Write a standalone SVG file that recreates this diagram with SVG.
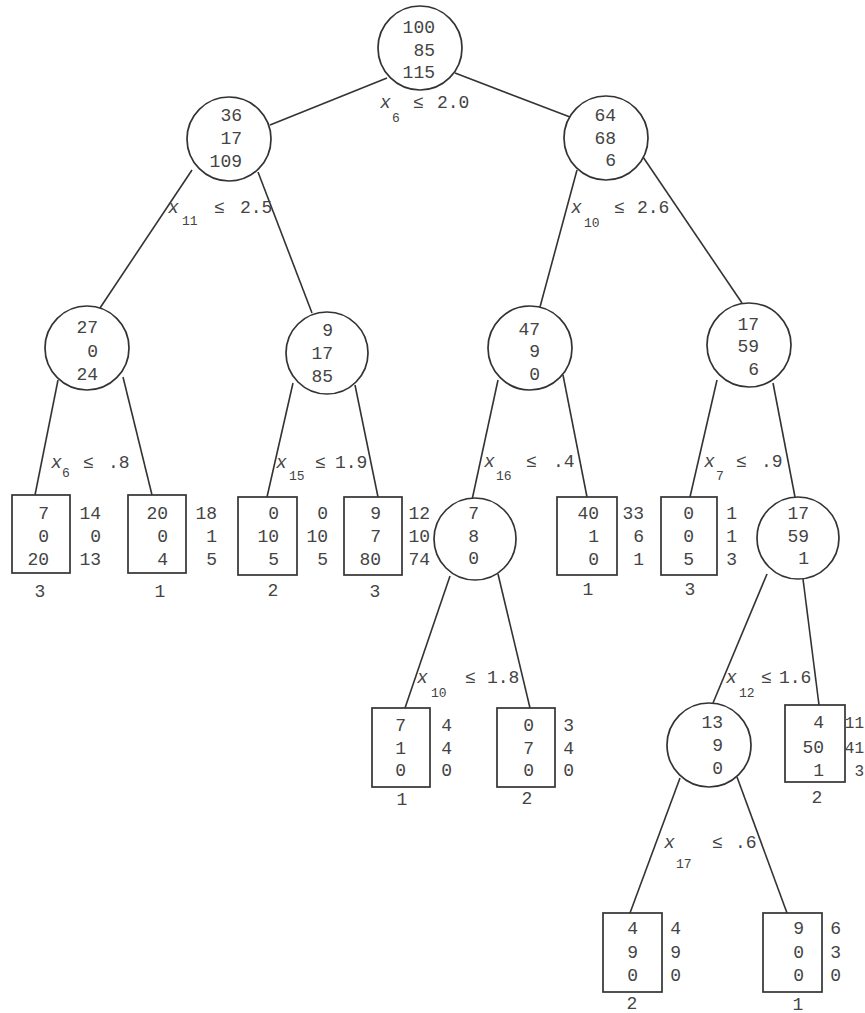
<svg xmlns="http://www.w3.org/2000/svg" width="865" height="1013" viewBox="0 0 865 1013">
<style>
.bg{fill:#fff}
.c{fill:#fff;stroke:#333;stroke-width:1.7}
.b{fill:#fff;stroke:#333;stroke-width:1.7}
.e{stroke:#333;stroke-width:1.6;fill:none}
text{font-family:"Liberation Mono","DejaVu Sans Mono",monospace;font-size:18px;fill:#444}
.n{text-anchor:end}
.m{text-anchor:middle}
.it{font-style:italic}
.sub{font-size:13px}
.edge{font-size:16px}
</style>
<rect class="bg" width="865" height="1013"/>
<g id="connectors">
<line class="e" x1="387" y1="78" x2="270" y2="125"/>
<line class="e" x1="455" y1="73" x2="570" y2="117"/>
<line class="e" x1="192" y1="170" x2="100" y2="308"/>
<line class="e" x1="258" y1="172" x2="312" y2="313"/>
<line class="e" x1="577" y1="170" x2="540" y2="307"/>
<line class="e" x1="643" y1="157" x2="742" y2="303"/>
<line class="e" x1="58" y1="380" x2="35" y2="495"/>
<line class="e" x1="123" y1="377" x2="152" y2="495"/>
<line class="e" x1="293" y1="383" x2="267" y2="497"/>
<line class="e" x1="355" y1="385" x2="378" y2="497"/>
<line class="e" x1="498" y1="380" x2="472" y2="500"/>
<line class="e" x1="563" y1="375" x2="587" y2="497"/>
<line class="e" x1="717" y1="380" x2="690" y2="497"/>
<line class="e" x1="773" y1="383" x2="795" y2="497"/>
<line class="e" x1="450" y1="576" x2="405" y2="708"/>
<line class="e" x1="498" y1="574" x2="530" y2="708"/>
<line class="e" x1="767" y1="574" x2="713" y2="703"/>
<line class="e" x1="803" y1="579" x2="819" y2="705"/>
<line class="e" x1="680" y1="778" x2="630" y2="913"/>
<line class="e" x1="737" y1="777" x2="787" y2="913"/>
</g>
<g id="labels">
<text><tspan class="it" x="380" y="108">x</tspan><tspan class="sub" x="392" y="122">6</tspan><tspan x="413" y="108">≤</tspan><tspan x="437" y="108">2.0</tspan></text>
<text><tspan class="it" x="168" y="213">x</tspan><tspan class="sub" x="182" y="225">11</tspan><tspan x="214" y="213">≤</tspan><tspan x="240" y="213">2.5</tspan></text>
<text><tspan class="it" x="571" y="213">x</tspan><tspan class="sub" x="584" y="227">10</tspan><tspan x="614" y="213">≤</tspan><tspan x="637" y="213">2.6</tspan></text>
<text><tspan class="it" x="51" y="468">x</tspan><tspan class="sub" x="62" y="477">6</tspan><tspan x="83" y="468">≤</tspan><tspan x="108" y="468">.8</tspan></text>
<text><tspan class="it" x="276" y="468">x</tspan><tspan class="sub" x="289" y="480">15</tspan><tspan x="315" y="468">≤</tspan><tspan x="335" y="468">1.9</tspan></text>
<text><tspan class="it" x="484" y="467">x</tspan><tspan class="sub" x="496" y="480">16</tspan><tspan x="526" y="467">≤</tspan><tspan x="553" y="467">.4</tspan></text>
<text><tspan class="it" x="704" y="467">x</tspan><tspan class="sub" x="716" y="480">7</tspan><tspan x="736" y="467">≤</tspan><tspan x="761" y="467">.9</tspan></text>
<text><tspan class="it" x="417" y="683">x</tspan><tspan class="sub" x="431" y="697">10</tspan><tspan x="465" y="683">≤</tspan><tspan x="487" y="683">1.8</tspan></text>
<text><tspan class="it" x="726" y="683">x</tspan><tspan class="sub" x="739" y="697">12</tspan><tspan x="761" y="683">≤</tspan><tspan x="779" y="683">1.6</tspan></text>
<text><tspan class="it" x="664" y="848">x</tspan><tspan class="sub" x="676" y="868">17</tspan><tspan x="712" y="848">≤</tspan><tspan x="735" y="848">.6</tspan></text>
</g>
<g id="n-root"><circle class="c" cx="420" cy="48" r="42"/><text class="n" x="435" y="33">100</text><text class="n" x="435" y="56">85</text><text class="n" x="435" y="78">115</text></g>
<g id="n-36"><circle class="c" cx="229" cy="139" r="42"/><text class="n" x="242" y="121">36</text><text class="n" x="242" y="144">17</text><text class="n" x="242" y="167">109</text></g>
<g id="n-64"><circle class="c" cx="606" cy="138" r="42"/><text class="n" x="616" y="121">64</text><text class="n" x="616" y="144">68</text><text class="n" x="616" y="166">6</text></g>
<g id="n-27"><circle class="c" cx="87" cy="348" r="42"/><text class="n" x="98" y="333">27</text><text class="n" x="98" y="357">0</text><text class="n" x="98" y="380">24</text></g>
<g id="n-9"><circle class="c" cx="327" cy="353" r="41"/><text class="n" x="333" y="336">9</text><text class="n" x="333" y="359">17</text><text class="n" x="333" y="382">85</text></g>
<g id="n-47"><circle class="c" cx="530" cy="348" r="42"/><text class="n" x="540" y="335">47</text><text class="n" x="540" y="357">9</text><text class="n" x="540" y="380">0</text></g>
<g id="n-17a"><circle class="c" cx="749" cy="345" r="42"/><text class="n" x="759" y="330">17</text><text class="n" x="759" y="352">59</text><text class="n" x="759" y="375">6</text></g>
<g id="n-7"><circle class="c" cx="475" cy="539" r="41"/><text class="n" x="479" y="519">7</text><text class="n" x="479" y="542">8</text><text class="n" x="479" y="564">0</text></g>
<g id="n-17b"><circle class="c" cx="798" cy="538" r="41"/><text class="n" x="809" y="519">17</text><text class="n" x="809" y="542">59</text><text class="n" x="809" y="564">1</text></g>
<g id="n-13"><circle class="c" cx="709" cy="745" r="42"/><text class="n" x="723" y="728">13</text><text class="n" x="723" y="751">9</text><text class="n" x="723" y="774">0</text></g>
<g id="leaf-1"><rect class="b" x="12" y="495" width="58" height="78"/><text class="n" x="49" y="519">7</text><text class="n" x="49" y="542">0</text><text class="n" x="49" y="565">20</text><text class="n" x="101" y="519">14</text><text class="n" x="101" y="542">0</text><text class="n" x="101" y="565">13</text><text class="m" x="40" y="597">3</text></g>
<g id="leaf-2"><rect class="b" x="128" y="495" width="58" height="78"/><text class="n" x="168" y="519">20</text><text class="n" x="168" y="542">0</text><text class="n" x="168" y="565">4</text><text class="n" x="217" y="519">18</text><text class="n" x="217" y="542">1</text><text class="n" x="217" y="565">5</text><text class="m" x="160" y="597">1</text></g>
<g id="leaf-3"><rect class="b" x="238" y="497" width="59" height="78"/><text class="n" x="279" y="519">0</text><text class="n" x="279" y="542">10</text><text class="n" x="279" y="565">5</text><text class="n" x="328" y="519">0</text><text class="n" x="328" y="542">10</text><text class="n" x="328" y="565">5</text><text class="m" x="273" y="596">2</text></g>
<g id="leaf-4"><rect class="b" x="344" y="497" width="58" height="78"/><text class="n" x="381" y="519">9</text><text class="n" x="381" y="542">7</text><text class="n" x="381" y="565">80</text><text class="n" x="430" y="519">12</text><text class="n" x="430" y="542">10</text><text class="n" x="430" y="565">74</text><text class="m" x="375" y="597">3</text></g>
<g id="leaf-5"><rect class="b" x="557" y="497" width="60" height="78"/><text class="n" x="599" y="519">40</text><text class="n" x="599" y="542">1</text><text class="n" x="599" y="565">0</text><text class="n" x="644" y="519">33</text><text class="n" x="644" y="542">6</text><text class="n" x="644" y="565">1</text><text class="m" x="588" y="595">1</text></g>
<g id="leaf-6"><rect class="b" x="661" y="497" width="56" height="78"/><text class="n" x="694" y="519">0</text><text class="n" x="694" y="542">0</text><text class="n" x="694" y="565">5</text><text class="n" x="737" y="519">1</text><text class="n" x="737" y="542">1</text><text class="n" x="737" y="565">3</text><text class="m" x="690" y="595">3</text></g>
<g id="leaf-7"><rect class="b" x="372" y="708" width="58" height="79"/><text class="n" x="406" y="731">7</text><text class="n" x="406" y="754">1</text><text class="n" x="406" y="776">0</text><text class="n" x="452" y="731">4</text><text class="n" x="452" y="754">4</text><text class="n" x="452" y="776">0</text><text class="m" x="402" y="805">1</text></g>
<g id="leaf-8"><rect class="b" x="497" y="708" width="58" height="79"/><text class="n" x="534" y="731">0</text><text class="n" x="534" y="754">7</text><text class="n" x="534" y="776">0</text><text class="n" x="574" y="731">3</text><text class="n" x="574" y="754">4</text><text class="n" x="574" y="776">0</text><text class="m" x="527" y="804">2</text></g>
<g id="leaf-9"><rect class="b" x="785" y="705" width="60" height="77"/><text class="n" x="824" y="728">4</text><text class="n" x="824" y="753">50</text><text class="n" x="824" y="776">1</text><text class="n edge" x="864" y="728">11</text><text class="n edge" x="864" y="753">41</text><text class="n edge" x="864" y="776">3</text><text class="m" x="817" y="803">2</text></g>
<g id="leaf-10"><rect class="b" x="603" y="913" width="59" height="79"/><text class="n" x="638" y="934">4</text><text class="n" x="638" y="958">9</text><text class="n" x="638" y="981">0</text><text class="n" x="681" y="934">4</text><text class="n" x="681" y="958">9</text><text class="n" x="681" y="981">0</text><text class="m" x="632" y="1009">2</text></g>
<g id="leaf-11"><rect class="b" x="763" y="913" width="59" height="79"/><text class="n" x="804" y="934">9</text><text class="n" x="804" y="958">0</text><text class="n" x="804" y="981">0</text><text class="n" x="841" y="934">6</text><text class="n" x="841" y="958">3</text><text class="n" x="841" y="981">0</text><text class="m" x="798" y="1010">1</text></g>
</svg>
